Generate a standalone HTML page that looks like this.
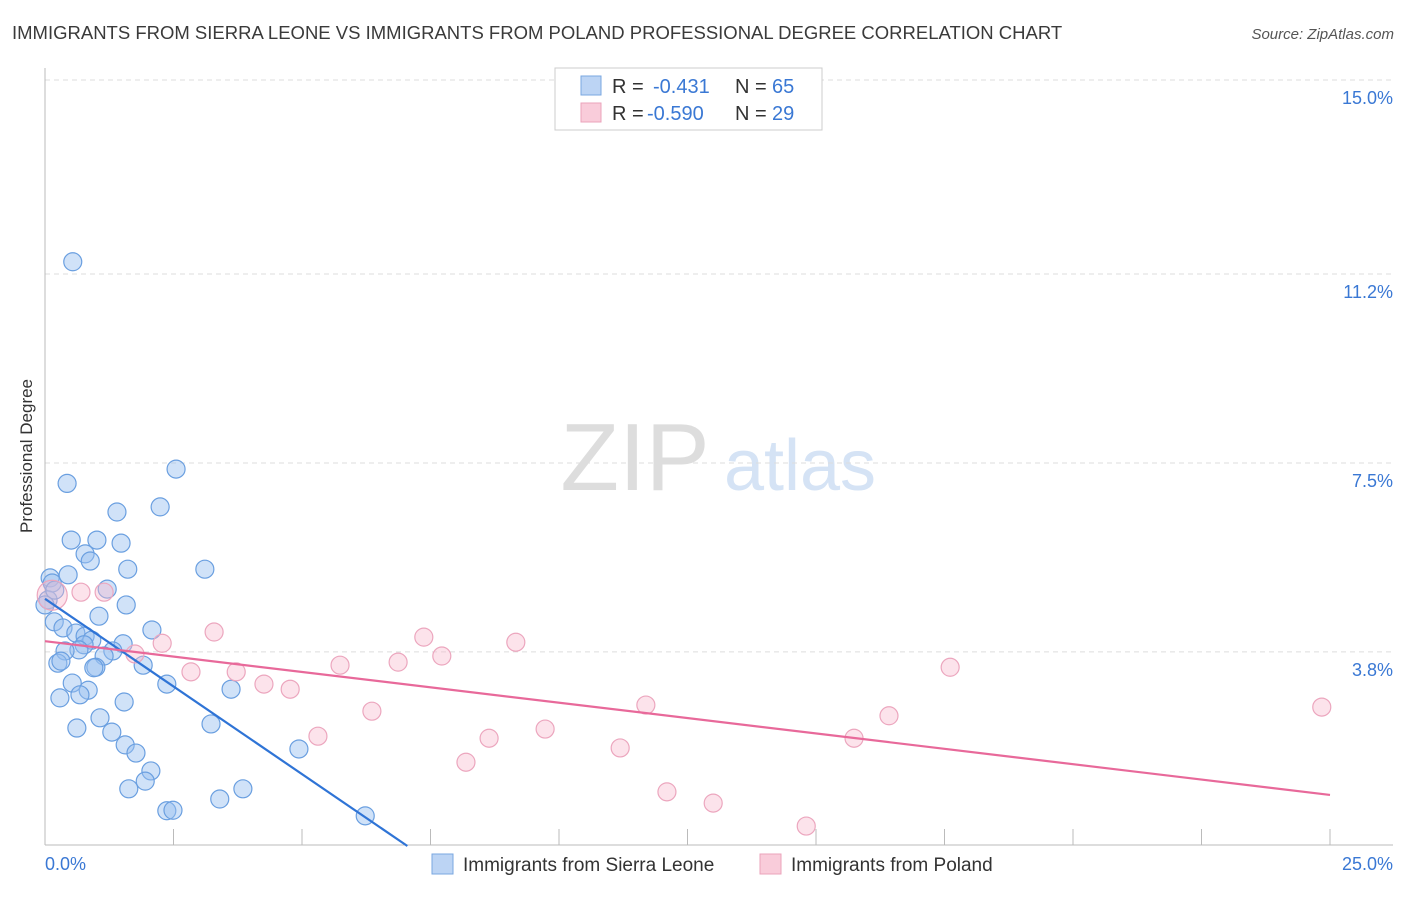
<!DOCTYPE html>
<html><head><meta charset="utf-8"><style>
body{margin:0;background:#fff;font-family:"Liberation Sans",sans-serif;}
svg text{font-family:"Liberation Sans",sans-serif;}
</style></head><body>
<svg id="chart" width="1406" height="892">
<text x="12" y="39" font-size="18.5" fill="#3a3a3a">IMMIGRANTS FROM SIERRA LEONE VS IMMIGRANTS FROM POLAND PROFESSIONAL DEGREE CORRELATION CHART</text>
<text x="1394" y="39" font-size="15" fill="#555" font-style="italic" text-anchor="end">Source: ZipAtlas.com</text>
<text x="32" y="456" font-size="17" fill="#333" text-anchor="middle" transform="rotate(-90 32 456)">Professional Degree</text>
<g><text x="635" y="490" font-size="96" fill="#ddd" font-family="Liberation Serif,serif" text-anchor="middle">ZIP</text><text x="800" y="490" font-size="72" fill="#d5e3f5" text-anchor="middle">atlas</text></g>
<g id="grid"></g><g id="axes"></g><g id="pts"></g><g id="lines"></g>
<g>
<rect x="555" y="68" width="267" height="62" fill="#fff" stroke="#ccc"/>
<rect x="581" y="76" width="20" height="19" fill="#bcd4f4" stroke="#7aa7e0"/>
<rect x="581" y="103" width="20" height="19" fill="#f9ccda" stroke="#eba3bb"/>
<text x="612" y="93" font-size="20" fill="#333">R =</text><text x="653" y="93" font-size="20" fill="#3a78d4">-0.431</text>
<text x="735" y="93" font-size="20" fill="#333">N =</text><text x="772" y="93" font-size="20" fill="#3a78d4">65</text>
<text x="612" y="120" font-size="20" fill="#333">R =</text><text x="647" y="120" font-size="20" fill="#3a78d4">-0.590</text>
<text x="735" y="120" font-size="20" fill="#333">N =</text><text x="772" y="120" font-size="20" fill="#3a78d4">29</text>
</g>
<g>
<rect x="432" y="854" width="21" height="20" fill="#bcd4f4" stroke="#7aa7e0"/>
<text x="463" y="871" font-size="19" fill="#333">Immigrants from Sierra Leone</text>
<rect x="760" y="854" width="21" height="20" fill="#f9ccda" stroke="#eba3bb"/>
<text x="791" y="871" font-size="19" fill="#333">Immigrants from Poland</text>
</g>
</svg>
<script>
const yTicks=[3.8,7.5,11.2,15.0];
const yTickLabels=["3.8%","7.5%","11.2%","15.0%"];
const xTickCount=10;
const blueX=[0.54,2.55,0.43,2.24,1.40,0.51,1.01,1.48,0.78,0.88,1.61,3.11,0.10,0.14,0.45,1.21,0.06,1.58,1.05,0.18,0.35,2.08,0.60,0.78,0.91,0.76,1.52,1.32,0.66,0.39,1.15,1.91,0.25,0.31,0.99,0.95,0.53,0.84,2.37,3.62,0.29,0.68,1.54,1.07,3.23,0.62,1.30,1.56,1.77,4.94,2.06,1.95,1.63,3.85,3.40,2.37,2.49,6.23,0.00,0.19];
const blueY=[11.44,7.38,7.10,6.64,6.54,5.99,5.99,5.93,5.72,5.58,5.42,5.42,5.25,5.15,5.31,5.03,4.82,4.72,4.50,4.39,4.27,4.23,4.17,4.11,4.03,3.94,3.96,3.82,3.84,3.82,3.72,3.54,3.58,3.62,3.50,3.49,3.19,3.05,3.17,3.07,2.90,2.96,2.82,2.51,2.39,2.31,2.23,1.98,1.82,1.90,1.47,1.27,1.12,1.12,0.92,0.69,0.70,0.59,4.72,5.01];
const pinkX=[0.14,0.70,1.15,3.29,2.28,1.75,2.84,3.72,4.26,4.77,5.74,6.87,7.72,7.37,9.16,6.36,5.31,8.64,9.73,8.19,11.19,11.69,12.10,13.00,14.81,15.74,16.42,17.61,24.84];
const pinkY=[4.91,4.97,4.97,4.19,3.97,3.76,3.41,3.41,3.17,3.07,3.54,3.60,3.72,4.09,3.99,2.64,2.15,2.11,2.29,1.64,1.92,2.76,1.06,0.84,0.39,2.11,2.55,3.50,2.72];
const blueTrend=[[0,4.84],[7.05,0]];
const pinkTrend=[[0,4.01],[25,1.0]];
const NS="http://www.w3.org/2000/svg";
const X=v=>45+v*51.4, Y=v=>846-v*51.07;
function mk(t,a,p){const e=document.createElementNS(NS,t);for(const k in a)e.setAttribute(k,a[k]);p.appendChild(e);return e;}
const grid=document.getElementById('grid'),axes=document.getElementById('axes');
yTicks.forEach((v,i)=>{
 const l=mk('line',{x1:45,x2:1393,y1:Y(v),y2:Y(v),stroke:'#ddd','stroke-dasharray':'5,4'},grid);
 
 
 const t=mk('text',{x:1393,y:Y(v)+24,'font-size':18,fill:'#3a78d4','text-anchor':'end'},axes);
 t.textContent=yTickLabels[i];
 
 
});
const ya=mk('line',{x1:45,x2:45,y1:68,y2:845,stroke:'#bbb'},axes);


const xa=mk('line',{x1:45,x2:1393,y1:845,y2:845,stroke:'#bbb'},axes);


for(let i=0;i<=xTickCount;i++){const v=i*2.5;const t=mk('line',{x1:X(v),x2:X(v),y1:829,y2:845,stroke:'#bbb'},axes);
 
 }
const x0=mk('text',{x:45,y:870,'font-size':18,fill:'#3a78d4'},axes);x0.textContent='0.0%';


const x1=mk('text',{x:1393,y:870,'font-size':18,fill:'#3a78d4','text-anchor':'end'},axes);x1.textContent='25.0%';


const pts=document.getElementById('pts');
blueX.forEach((v,i)=>{const c=mk('circle',{cx:X(v),cy:Y(blueY[i]),r:9,fill:'rgba(150,190,240,0.45)',stroke:'#6a9fe0','stroke-width':1.2},pts);
 
 });
pinkX.forEach((v,i)=>{const c=mk('circle',{cx:X(v),cy:Y(pinkY[i]),r:i==0?15:9,fill:'rgba(248,185,205,0.4)',stroke:'#eca6be','stroke-width':1.2},pts);
 
 });
const lines=document.getElementById('lines');
const bl=mk('line',{x1:X(blueTrend[0][0]),y1:Y(blueTrend[0][1]),x2:X(blueTrend[1][0]),y2:Y(blueTrend[1][1]),stroke:'#2f74d6','stroke-width':2.2},lines);


const pl=mk('line',{x1:X(pinkTrend[0][0]),y1:Y(pinkTrend[0][1]),x2:X(pinkTrend[1][0]),y2:Y(pinkTrend[1][1]),stroke:'#e8699a','stroke-width':2.2},lines);


</script>
</body></html>
